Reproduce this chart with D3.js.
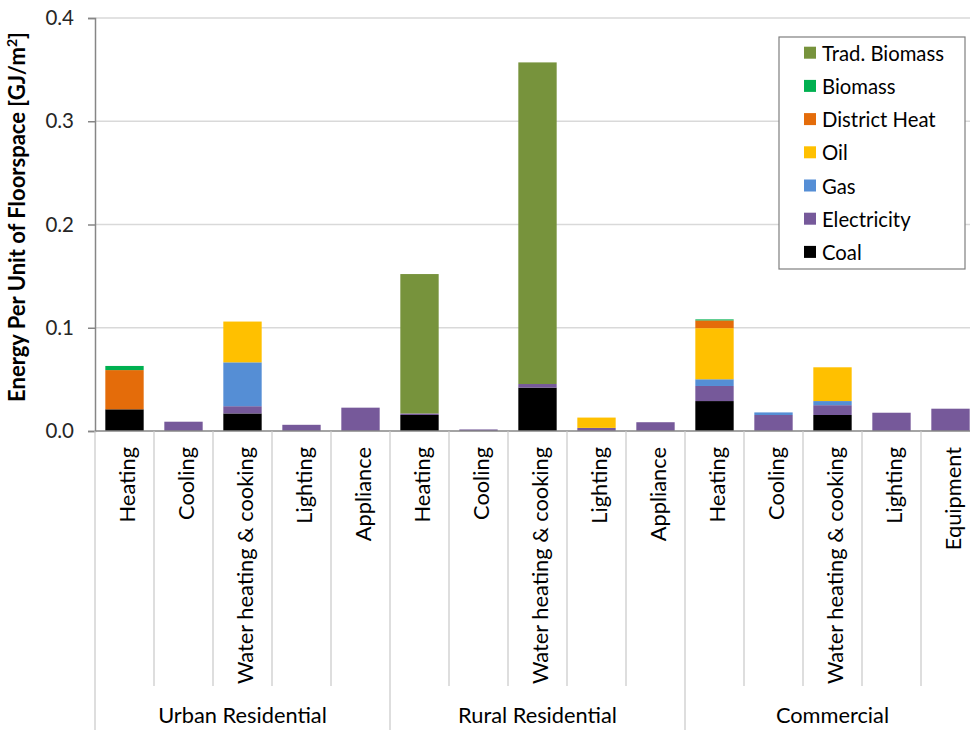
<!DOCTYPE html>
<html>
<head>
<meta charset="utf-8">
<script src="https://cdn.jsdelivr.net/npm/d3@7"></script>
<style>
  html, body { margin: 0; padding: 0; background: #fff; }
  svg { display: block; font-family: Lato, "Open Sans", sans-serif; }
</style>
</head>
<body>
<svg id="chart" width="970" height="730"></svg>
<script>
// End uses, grouped by building sector
const categories = [
  "Heating", "Cooling", "Water heating & cooking", "Lighting", "Appliance",
  "Heating", "Cooling", "Water heating & cooking", "Lighting", "Appliance",
  "Heating", "Cooling", "Water heating & cooking", "Lighting", "Equipment"
];
const groups = ["Urban Residential", "Rural Residential", "Commercial"];
const groupSize = 5;

// Energy intensity by fuel, GJ per m² of floorspace (stacked bottom to top)
const coal         = [0.021, 0,      0.017,  0,      0,      0.0155, 0,      0.042,  0,     0,      0.029,  0,      0.0155, 0,      0];
const electricity  = [0,     0.009,  0.007,  0.006,  0.0226, 0.0015, 0.0015, 0.0035, 0.003, 0.0085, 0.0146, 0.0155, 0.0095, 0.0177, 0.0216];
const gas          = [0,     0,      0.0425, 0,      0,      0,      0,      0,      0,     0,      0.0065, 0.0025, 0.004,  0,      0];
const oil          = [0,     0,      0.0395, 0,      0,      0,      0,      0,      0.010, 0,      0.0495, 0,      0.0327, 0,      0];
const districtHeat = [0.038, 0,      0,      0,      0,      0,      0,      0,      0,     0,      0.0075, 0,      0,      0,      0];
const biomass      = [0.004, 0,      0,      0,      0,      0,      0,      0,      0,     0,      0.001,  0,      0,      0,      0];
const tradBiomass  = [0,     0,      0,      0,      0,      0.135,  0,      0.3115, 0,     0,      0,      0,      0,      0,      0];

const yTicks = [0.0, 0.1, 0.2, 0.3, 0.4];

const seriesDefs = [
  { name: "Coal",          values: coal,         color: "#000000" },
  { name: "Electricity",   values: electricity,  color: "#76599a" },
  { name: "Gas",           values: gas,          color: "#558ed5" },
  { name: "Oil",           values: oil,          color: "#ffc000" },
  { name: "District Heat", values: districtHeat, color: "#e46c0a" },
  { name: "Biomass",       values: biomass,      color: "#00b050" },
  { name: "Trad. Biomass", values: tradBiomass,  color: "#77933c" }
];

const svg = d3.select("#chart");
const plotLeft = 95, plotRight = 980, plotTop = 18, plotBottom = 431;
const catLineEnd = 686, groupLineEnd = 730;

const idx = categories.map((_, i) => i);
const x = d3.scaleBand().domain(idx).range([plotLeft, plotRight])
  .paddingInner(0.35).paddingOuter(0.175);
const step = x.step();
const y = d3.scaleLinear().domain([0, 0.4]).range([plotBottom, plotTop]);

// Stack the fuels
const rows = idx.map(i => {
  const r = { i };
  seriesDefs.forEach(s => { r[s.name] = s.values[i]; });
  return r;
});
const stack = d3.stack().keys(seriesDefs.map(s => s.name));
const stacked = stack(rows);

// Horizontal gridlines
svg.append("g").selectAll("line")
  .data(yTicks.filter(t => t > 0))
  .join("line")
  .attr("x1", plotLeft).attr("x2", plotRight)
  .attr("y1", d => y(d)).attr("y2", d => y(d))
  .attr("stroke", "#d9d9d9").attr("stroke-width", 1.5);

// Bars
svg.append("g").selectAll("g")
  .data(stacked)
  .join("g")
  .attr("fill", (d, k) => seriesDefs[k].color)
  .selectAll("rect")
  .data(d => d.filter(p => p[1] - p[0] > 0))
  .join("rect")
  .attr("x", d => x(d.data.i))
  .attr("width", x.bandwidth())
  .attr("y", d => y(d[1]))
  .attr("height", d => y(d[0]) - y(d[1]));

// Y axis
const yAxis = d3.axisLeft(y).tickValues(yTicks).tickFormat(d3.format(".1f")).tickSizeOuter(0).tickSize(7).tickPadding(14);
const yg = svg.append("g").attr("transform", `translate(${plotLeft},0)`).call(yAxis);
yg.select(".domain").attr("stroke", "#868686").attr("stroke-width", 1.5);
yg.selectAll(".tick line").attr("stroke", "#868686").attr("stroke-width", 1.5);
yg.selectAll(".tick text").attr("font-size", 20.5).attr("fill", "#262626")
  .attr("font-family", "Lato, sans-serif");

// Y axis title
const yt = svg.append("text")
  .attr("transform", `translate(25,217) rotate(-90)`)
  .attr("text-anchor", "middle")
  .attr("font-size", 22).attr("font-weight", "bold").attr("fill", "#000");
yt.append("tspan").text("Energy Per Unit of Floorspace [GJ/m");
yt.append("tspan").text("2").attr("font-size", 14).attr("dy", -8);
yt.append("tspan").text("]").attr("dy", 8);

// Category axis: baseline, dividers, labels
svg.append("line")
  .attr("x1", plotLeft).attr("x2", plotRight).attr("y1", plotBottom).attr("y2", plotBottom)
  .attr("stroke", "#868686").attr("stroke-width", 1.5);

const boundaries = d3.range(categories.length + 1);
svg.append("g").selectAll("line")
  .data(boundaries)
  .join("line")
  .attr("x1", b => plotLeft + b * step).attr("x2", b => plotLeft + b * step)
  .attr("y1", plotBottom)
  .attr("y2", b => (b % groupSize === 0 ? groupLineEnd : catLineEnd))
  .attr("stroke", "#c8c8c8").attr("stroke-width", 1.2);

svg.append("g").selectAll("text")
  .data(idx)
  .join("text")
  .attr("transform", i => `translate(${x(i) + x.bandwidth() / 2 + 2},447) rotate(-90)`)
  .attr("text-anchor", "end")
  .attr("dominant-baseline", "central")
  .attr("font-size", 21.8).attr("fill", "#000")
  .text(i => categories[i]);

svg.append("g").selectAll("text")
  .data(groups)
  .join("text")
  .attr("x", (g, k) => plotLeft + (k + 0.5) * groupSize * step)
  .attr("y", 723)
  .attr("text-anchor", "middle")
  .attr("font-size", 21.8).attr("fill", "#000")
  .text(g => g);

// Legend, top entry first
const legendItems = seriesDefs.slice().reverse();
const lg = svg.append("g").attr("transform", "translate(779,37)");
lg.append("rect").attr("width", 186).attr("height", 232)
  .attr("fill", "#fff").attr("stroke", "#7f7f7f").attr("stroke-width", 1.2);
const li = lg.selectAll("g.item")
  .data(legendItems)
  .join("g")
  .attr("class", "item")
  .attr("transform", (d, k) => `translate(0,${15.7 + k * 33.2})`);
li.append("rect").attr("x", 25).attr("y", -6).attr("width", 12).attr("height", 12)
  .attr("fill", d => d.color);
li.append("text").attr("x", 43).attr("y", 0)
  .attr("dominant-baseline", "central")
  .attr("font-size", 20.3).attr("fill", "#000")
  .text(d => d.name);
</script>
</body>
</html>
